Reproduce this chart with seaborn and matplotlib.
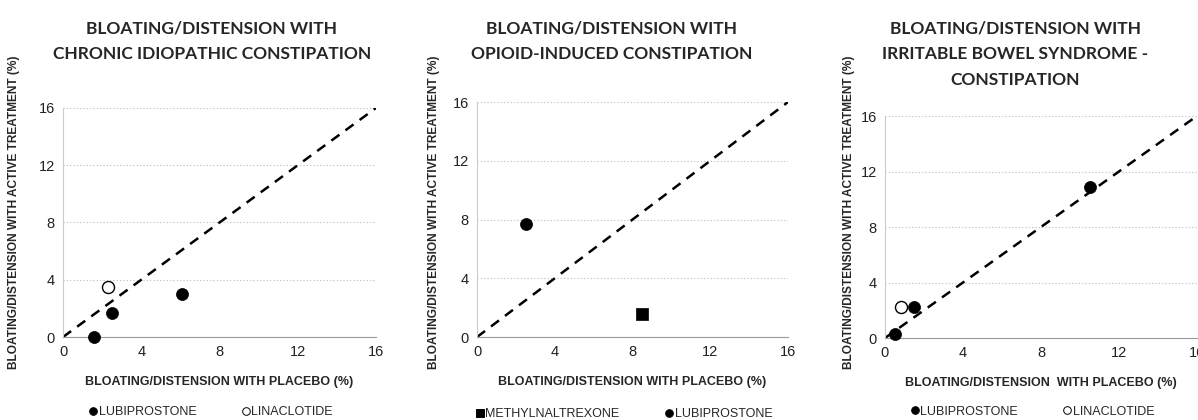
import numpy as np
import matplotlib
matplotlib.use("Agg")
import matplotlib.pyplot as plt
import seaborn as sns
import pandas as pd
from matplotlib.lines import Line2D

sns.set_style("white")
plt.rcParams['font.family'] = ['Liberation Sans', 'DejaVu Sans']

# panel titles
titles = [
    "BLOATING/DISTENSION WITH\nCHRONIC IDIOPATHIC CONSTIPATION",
    "BLOATING/DISTENSION WITH\nOPIOID-INDUCED CONSTIPATION",
    "BLOATING/DISTENSION WITH\nIRRITABLE BOWEL SYNDROME -\nCONSTIPATION",
]
xlabels = [
    "BLOATING/DISTENSION WITH PLACEBO (%)",
    "BLOATING/DISTENSION WITH PLACEBO (%)",
    "BLOATING/DISTENSION  WITH PLACEBO (%)",
]
ylabel = "BLOATING/DISTENSION WITH ACTIVE TREATMENT (%)"
ticks = [0, 4, 8, 12, 16]

# CIC
cic_lubi_placebo = [1.6, 2.5, 6.1]
cic_lubi_active = [0.0, 1.7, 3.0]
cic_lina_placebo = [2.3]
cic_lina_active = [3.5]

# OIC
oic_mntx_placebo = [8.5]
oic_mntx_active = [1.6]
oic_lubi_placebo = [2.5]
oic_lubi_active = [7.7]

# IBS-C
ibs_lubi_placebo = [0.5, 1.5, 10.5]
ibs_lubi_active = [0.3, 2.2, 10.9]
ibs_lina_placebo = [0.8]
ibs_lina_active = [2.2]

panels = [
    [("LUBIPROSTONE", cic_lubi_placebo, cic_lubi_active, "o", "black"),
     ("LINACLOTIDE", cic_lina_placebo, cic_lina_active, "o", "white")],
    [("METHYLNALTREXONE", oic_mntx_placebo, oic_mntx_active, "s", "black"),
     ("LUBIPROSTONE", oic_lubi_placebo, oic_lubi_active, "o", "black")],
    [("LUBIPROSTONE", ibs_lubi_placebo, ibs_lubi_active, "o", "black"),
     ("LINACLOTIDE", ibs_lina_placebo, ibs_lina_active, "o", "white")],
]

# axes boxes in figure fractions (left, bottom, width, height)
boxes = [
    (0.0526, 0.1976, 0.2613, 0.5454),
    (0.3982, 0.1976, 0.2596, 0.5595),
    (0.7387, 0.1952, 0.2604, 0.5286),
]
title_x = [212 / 1198, 612 / 1198, 1015 / 1198]
ylabel_x = [8 / 1198, 428 / 1198, 843 / 1198]

fig = plt.figure(figsize=(11.98, 4.2), dpi=100)

for i, series in enumerate(panels):
    ax = fig.add_axes(boxes[i])
    for name, xs, ys, mk, fc in series:
        df = pd.DataFrame({"placebo": xs, "active": ys})
        sns.scatterplot(data=df, x="placebo", y="active", ax=ax, marker=mk,
                        s=75 if mk == "o" else 65, color=fc, edgecolor="black",
                        linewidth=1.0 if fc == "white" else 0.5, zorder=3,
                        clip_on=False)
    ax.axline((0, 0), slope=1, color="black", linestyle=(0, (4, 3)), linewidth=1.8, zorder=2)
    ax.set_xlim(0, 16)
    ax.set_ylim(0, 16)
    ax.set_xticks(ticks)
    ax.set_yticks(ticks)
    ax.tick_params(axis="both", labelsize=10.5, length=3, width=0.8, color="#999999",
                   labelcolor="#222222", pad=3)
    ax.grid(axis="y", color="#bbbbbb", linestyle=(0, (1, 2)), linewidth=0.8)
    ax.grid(axis="x", visible=False)
    for s in ["top", "right"]:
        ax.spines[s].set_visible(False)
    ax.spines["left"].set_color("#cccccc")
    ax.spines["bottom"].set_color("#999999")
    ax.set_xlabel(xlabels[i], fontsize=9, fontweight="bold", labelpad=12)
    ax.set_ylabel("")
    fig.text(ylabel_x[i], 0.495, ylabel, rotation=90, ha="left", va="center",
             fontsize=8.6, fontweight="bold")
    fig.text(title_x[i], 0.952, titles[i], ha="center", va="top", fontsize=12.5,
             fontweight="bold", family=["Lato", "DejaVu Sans"], linespacing=1.75)

    handles = [Line2D([], [], linestyle="none", marker=mk, markersize=5.5,
                      markerfacecolor=fc, markeredgecolor="black", markeredgewidth=0.7)
               for name, xs, ys, mk, fc in series]
    labels = [name for name, xs, ys, mk, fc in series]
    ax.legend(handles, labels, loc="upper center", bbox_to_anchor=(0.47, -0.265),
              ncol=2, frameon=False, handletextpad=0.0, handlelength=0.9,
              columnspacing=3.5, fontsize=9, borderpad=0.2)

fig.savefig("out.png", dpi=100)
